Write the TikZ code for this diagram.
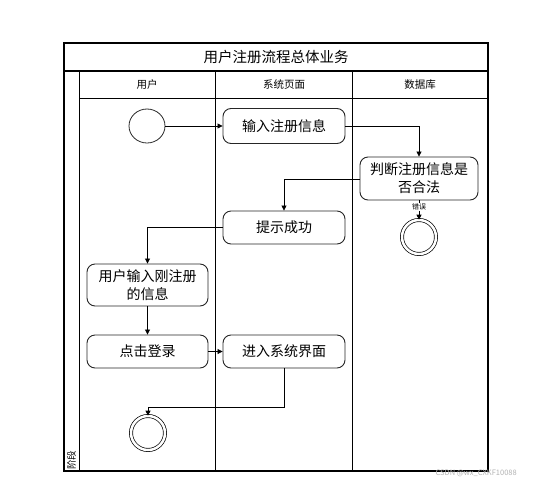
\documentclass[tikz,border=0pt]{standalone}
\usepackage{fontspec}
\setmainfont{Noto Sans CJK SC}
\usetikzlibrary{arrows.meta,shapes.geometric}
\begin{document}
\begin{tikzpicture}[x=1pt,y=-1pt,
  frame/.style={draw=black,line width=1.1pt},
  lane/.style={draw=black,line width=0.9pt},
  act/.style={draw=black!85,line width=0.9pt,rounded corners=8pt,minimum width=122pt,align=center,font=\fontsize{14}{18}\selectfont,inner sep=2pt},
  conn/.style={draw=black,line width=0.8pt,-{Triangle[length=5pt,width=5pt]}},
  startc/.style={draw=black!85,line width=0.8pt,ellipse,minimum width=36pt,minimum height=34pt,inner sep=0pt},
  endc/.style={draw=black,line width=0.7pt,double=white,double distance=2.5pt,circle,minimum size=34pt,inner sep=0pt},
  hdr/.style={font=\fontsize{10.5}{12}\selectfont}
]
\useasboundingbox (0,0) rectangle (538,485);
% frame
\draw[frame] (64,43) rectangle (488,471);
\draw[frame] (64,71) -- (488,71);
\draw[lane] (79,71) -- (79,471);
\draw[lane] (215,71) -- (215,471);
\draw[lane] (352,71) -- (352,471);
\draw[lane] (79,98) -- (488,98);
\node[font=\fontsize{14.5}{16}\selectfont] (title) at (276,57) {用户注册流程总体业务};
\node[hdr] (h1) at (147,85) {用户};
\node[hdr] (h2) at (284,85) {系统页面};
\node[hdr] (h3) at (420,85) {数据库};
\node[font=\fontsize{9.5}{10}\selectfont,rotate=90,inner sep=0pt] (stage) at (71.5,460) {阶段};
% nodes
\node[startc] (start) at (147,126) {};
\node[act,minimum height=35pt] (input) at (284,126) {输入注册信息};
\node[act,minimum width=118pt,minimum height=43pt] (judge) at (419,178.5) {判断注册信息是\\否合法};
\node[endc] (end1) at (419,237) {};
\node[act,minimum height=33pt] (ok) at (284,227.5) {提示成功};
\node[act,minimum width=121pt,minimum height=42pt] (uinput) at (147.5,285) {用户输入刚注册\\的信息};
\node[act,minimum width=121pt,minimum height=33pt] (click) at (147.5,351.5) {点击登录};
\node[act,minimum height=33pt] (enter) at (284,351.5) {进入系统界面};
\node[endc] (end2) at (148,433) {};
\coordinate (bend) at (284,407);
% connectors
\draw[conn] (start) -- (input);
\draw[conn] (input.east) -| (judge.north);
\draw[conn] (judge.west |- 0,179.5) -| (ok.north);
\draw[conn] (judge) -- node[font=\fontsize{7}{8}\selectfont,fill=white,inner sep=0.5pt,pos=0.35] (err) {错误} (end1);
\draw[conn] (ok.west) -| (uinput.north);
\draw[conn] (uinput) -- (click);
\draw[conn] (click) -- (enter);
\draw[conn] (enter.south) -- (bend) -| (end2.north);
\node[text=black!30,font=\fontsize{7.5}{9}\selectfont,anchor=west] (wm) at (432,473) {CSDN @wx\_CXKF10088};
\end{tikzpicture}
\end{document}
